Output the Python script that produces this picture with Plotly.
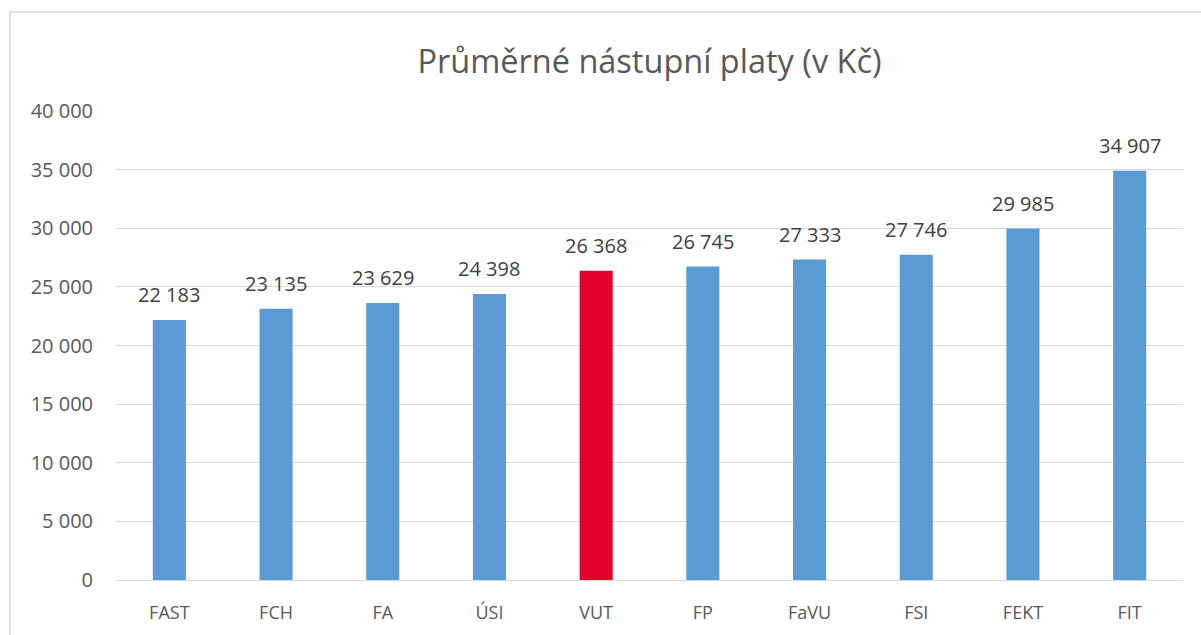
import plotly.graph_objects as go

categories = ["FAST", "FCH", "FA", "ÚSI", "VUT", "FP", "FaVU", "FSI", "FEKT", "FIT"]
values = [22183, 23135, 23629, 24398, 26368, 26745, 27333, 27746, 29985, 34907]
highlight = "VUT"

blue = "#5B9BD5"
red = "#E4002B"
colors = [red if c == highlight else blue for c in categories]

font_family = "'Open Sans', sans-serif"


def fmt(v):
    return f"{v:,d}".replace(",", " ")


fig = go.Figure(go.Bar(
    x=categories,
    y=values,
    marker=dict(color=colors, line=dict(width=0)),
    hovertemplate="%{x}: %{y:,d}<extra></extra>",
))

annotations = [
    dict(x=c, y=v, xref="x", yref="y", text=fmt(v), showarrow=False,
         yanchor="middle", yshift=25,
         font=dict(size=20, color="#404040", family=font_family))
    for c, v in zip(categories, values)
]

fig.update_layout(
    width=1201, height=635,
    margin=dict(l=116, r=18, t=111, b=55),
    paper_bgcolor="white", plot_bgcolor="white",
    separators=", ",
    bargap=0.69,
    showlegend=False,
    annotations=annotations,
    title=dict(text="Průměrné nástupní platy (v Kč)", x=0.5, xanchor="center",
               xref="paper",
               y=1 - 62 / 635, yanchor="middle",
               font=dict(size=32.5, color="#595959", family=font_family)),
    font=dict(family=font_family, color="#595959", size=18),
    xaxis=dict(showgrid=False, showline=True, linecolor="#D9D9D9", linewidth=1,
               ticks="", ticklabelstandoff=16, automargin=False,
               tickfont=dict(size=18, color="#595959")),
    yaxis=dict(range=[0, 40000], tick0=0, dtick=5000, tickformat=",d",
               showgrid=True, gridcolor="#D9D9D9", gridwidth=1,
               zeroline=False, showline=False, ticks="",
               ticklabelstandoff=22, automargin=False,
               tickfont=dict(size=20, color="#595959")),
    shapes=[dict(type="rect", xref="paper", yref="paper",
                 x0=(10 - 116) / 1067, x1=(1210 - 116) / 1067,
                 y0=(580 - 650) / 469, y1=(580 - 12) / 469,
                 line=dict(color="#D9D9D9", width=1.5), layer="below")],
)

fig.write_html("out.html", config={"displayModeBar": False},
               post_script="document.body.style.margin='0';")
